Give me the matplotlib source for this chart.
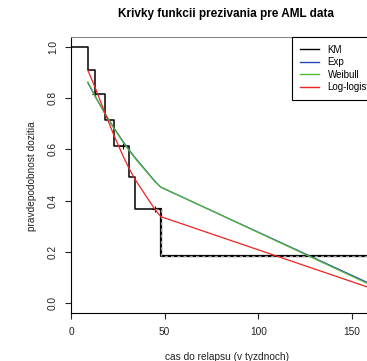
import matplotlib
matplotlib.use('Agg')
import matplotlib.pyplot as plt  # NOQA

plt.rcParams['font.family'] = ['Liberation Sans', 'DejaVu Sans']

# Kaplan-Meier estimate (AML, maintained group)
km_times = [0, 9, 13, 18, 23, 31, 34, 48, 161]
km_surv = [1.0, 0.909, 0.818, 0.716, 0.614, 0.491, 0.368, 0.184, 0.184]
censor_times = [13, 28, 45, 161]
censor_surv = [0.818, 0.614, 0.368, 0.184]

# fitted models evaluated at the observed times
fit_times = [9, 13, 18, 23, 28, 31, 34, 45, 48, 161]
exp_surv = [0.861, 0.806, 0.742, 0.683, 0.629, 0.599, 0.570, 0.474, 0.452, 0.070]
weib_surv = [0.864, 0.808, 0.742, 0.681, 0.626, 0.596, 0.567, 0.472, 0.453, 0.066]
loglog_surv = [0.910, 0.840, 0.745, 0.654, 0.571, 0.526, 0.485, 0.363, 0.337, 0.055]

labels = ['KM', 'Exp', 'Weibull', 'Log-logistic']
colors = ['black', '#2244bb', '#55bb33', '#ee2222']

W, H = 367, 361
fig = plt.figure(figsize=(W / 100, H / 100), dpi=100)
ax = fig.add_axes([71 / W, (H - 313) / H, 309 / W, 276 / H])

ax.step(km_times, km_surv, where='post', color=colors[0], lw=1.1)
ax.plot(censor_times, censor_surv, '+', color='black', ms=4, mew=0.8)
# dashed piece on the tail of the KM curve
tail_x = [45, 48, 48, 161]
tail_y = [0.368, 0.368, 0.184, 0.184]
ax.plot(tail_x, tail_y, color='black', lw=1.6)
ax.plot(tail_x, tail_y, color='#999999', lw=0.9, linestyle=(0, (2.5, 2.5)))

ax.plot(fit_times, exp_surv, color=colors[1], lw=0.9)
ax.plot(fit_times, weib_surv, color=colors[2], lw=0.9)
ax.plot(fit_times, loglog_surv, color=colors[3], lw=0.9)

ax.set_xlim(0, 165)
ax.set_ylim(-0.04, 1.04)
ax.set_xticks([0, 50, 100, 150])
ax.set_yticks([0.0, 0.2, 0.4, 0.6, 0.8, 1.0])
ax.set_yticklabels(['0.0', '0.2', '0.4', '0.6', '0.8', '1.0'],
                   rotation=90, va='center')
ax.tick_params(direction='out', length=4.3, width=0.8, labelsize=7.3,
               colors='#222222', pad=5)
ax.tick_params(axis='x', pad=5.5)
for side in ['left', 'bottom']:
    ax.spines[side].set_color('black')
    ax.spines[side].set_linewidth(0.8)
ax.spines['top'].set_color('#888888')
ax.spines['top'].set_linewidth(0.8)
ax.spines['right'].set_visible(False)

handles = [plt.Line2D([], [], color=c, lw=1.0) for c in colors]
leg = fig.legend(handles, labels, loc='upper left',
                 bbox_to_anchor=(292 / W, (H - 37) / H),
                 bbox_transform=fig.transFigure, borderaxespad=0,
                 fontsize=7, frameon=True, fancybox=False,
                 framealpha=1, edgecolor='black', handlelength=2.0,
                 handletextpad=0.85, labelspacing=0.25, borderpad=0.8)
leg.get_frame().set_linewidth(0.8)

fig.text(225.5 / W, (H - 14) / H, 'Krivky funkcii prezivania pre AML data',
         ha='center', va='center', fontsize=8.5, fontweight='bold')
fig.text(227 / W, (H - 357) / H, 'cas do relapsu (v tyzdnoch)',
         ha='center', va='center', fontsize=7.3, color='#222222')
fig.text(32 / W, (H - 176) / H, 'pravdepodobnost dozitia', rotation=90,
         ha='center', va='center', fontsize=7.3, color='#222222')

fig.savefig('out.png', dpi=100)
